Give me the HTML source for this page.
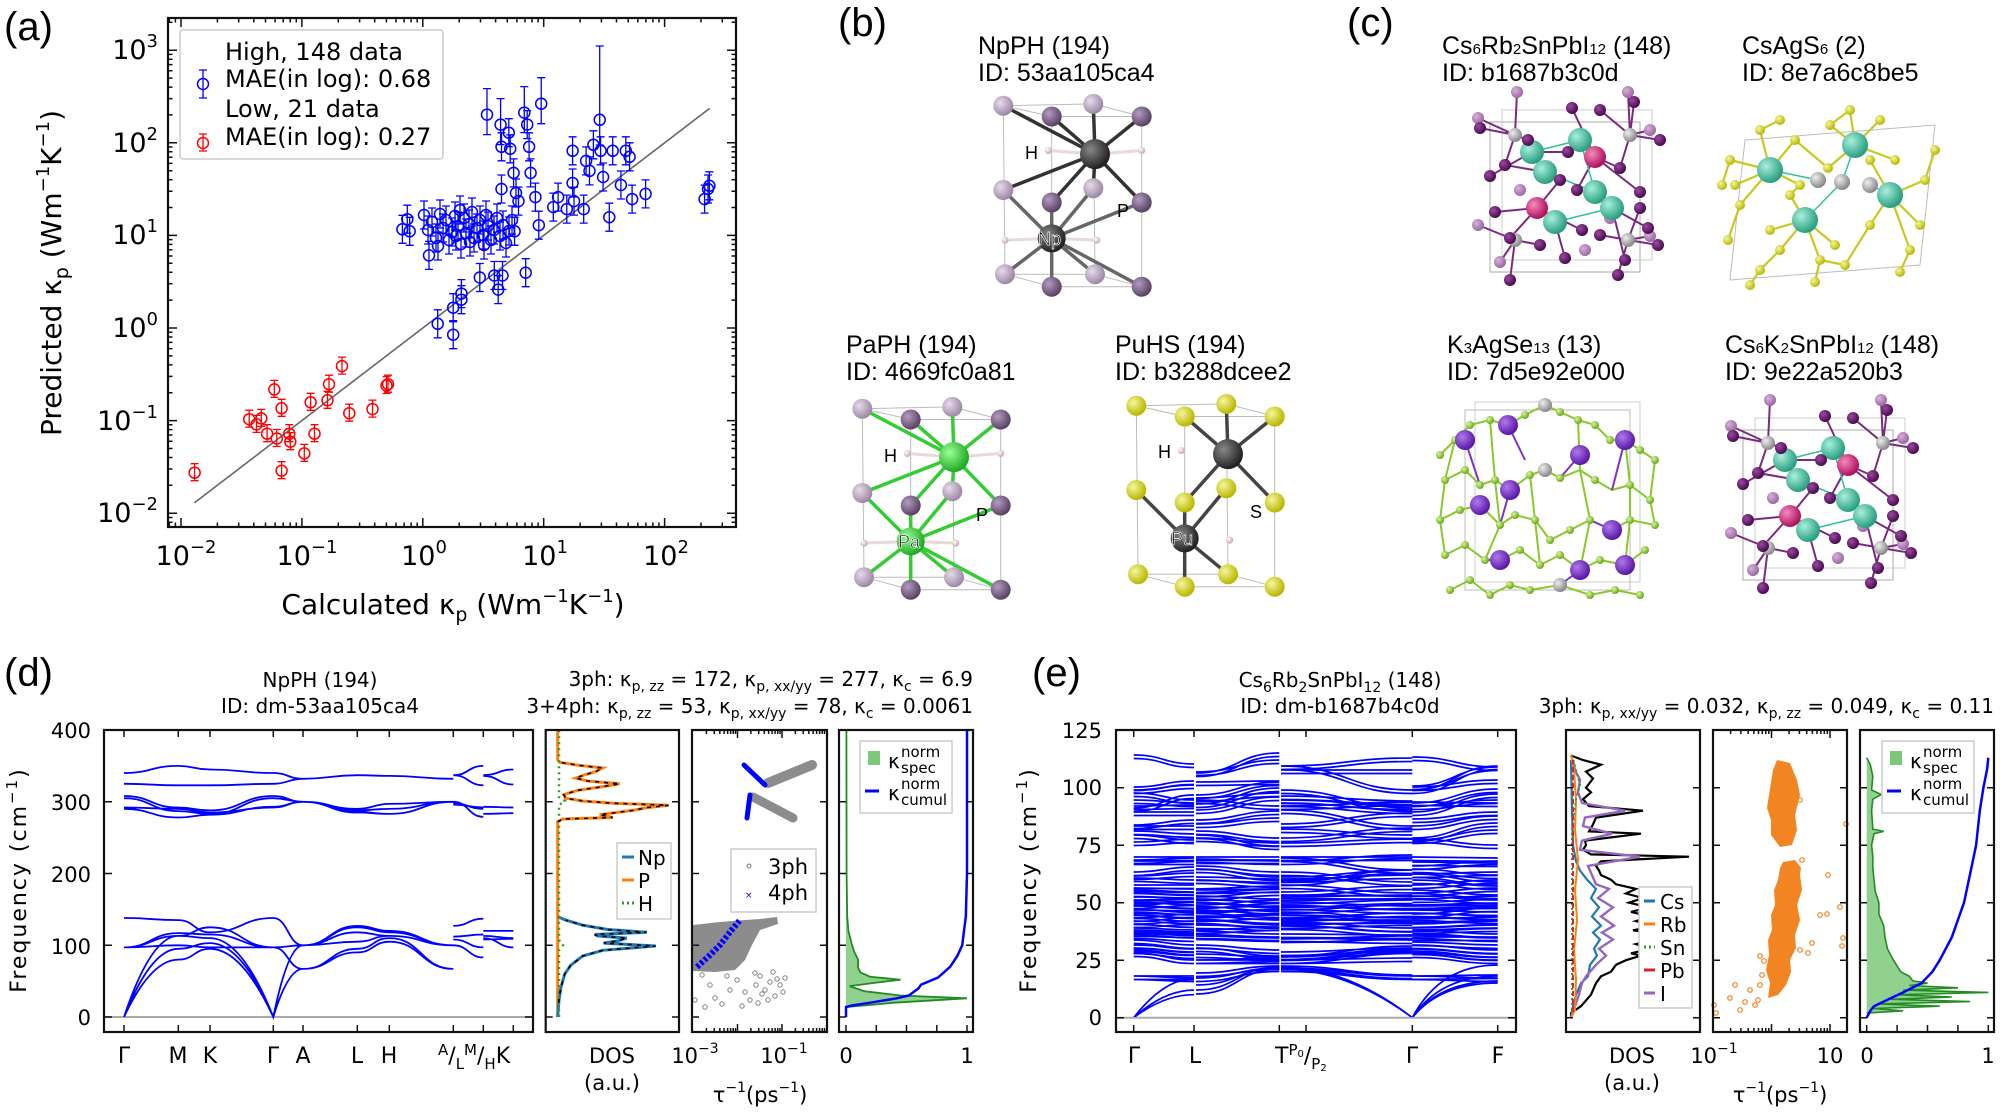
<!DOCTYPE html>
<html><head><meta charset="utf-8"><style>
html,body{margin:0;padding:0;background:#fff;}
svg{display:block}
.dv{font-family:"DejaVu Sans","Liberation Sans",sans-serif;}
.ls{font-family:"Liberation Sans","DejaVu Sans",sans-serif;}
.ax{fill:none;stroke:#111;stroke-width:2.2}
.tk{fill:none;stroke:#111;stroke-width:1.5}
.bd{fill:none;stroke:#0000ff;stroke-width:1.8}
.be{fill:none;stroke:#0000ff;stroke-width:1.7}
</style></head><body>
<svg xmlns="http://www.w3.org/2000/svg" xmlns:xlink="http://www.w3.org/1999/xlink" width="2000" height="1115" viewBox="0 0 2000 1115">
<rect width="2000" height="1115" fill="#fff"/>
<defs>
<radialGradient id="gP1" cx="35%" cy="35%" r="65%"><stop offset="0" stop-color="#e6dcea"/><stop offset="1" stop-color="#9e88a6"/></radialGradient>
<radialGradient id="gP2" cx="35%" cy="35%" r="65%"><stop offset="0" stop-color="#b49cc0"/><stop offset="1" stop-color="#5b4366"/></radialGradient>
<radialGradient id="gDk" cx="35%" cy="35%" r="65%"><stop offset="0" stop-color="#888"/><stop offset="1" stop-color="#222"/></radialGradient>
<radialGradient id="gGr" cx="35%" cy="35%" r="65%"><stop offset="0" stop-color="#9f9"/><stop offset="1" stop-color="#2a2"/></radialGradient>
<radialGradient id="gY" cx="35%" cy="35%" r="65%"><stop offset="0" stop-color="#f6f6a0"/><stop offset="1" stop-color="#b8b800"/></radialGradient>
<radialGradient id="gT" cx="35%" cy="35%" r="65%"><stop offset="0" stop-color="#a8f0dc"/><stop offset="1" stop-color="#2a9e80"/></radialGradient>
<radialGradient id="gM" cx="35%" cy="35%" r="65%"><stop offset="0" stop-color="#f58bbd"/><stop offset="1" stop-color="#b0105e"/></radialGradient>
<radialGradient id="gV" cx="35%" cy="35%" r="65%"><stop offset="0" stop-color="#b07ae8"/><stop offset="1" stop-color="#5a18a8"/></radialGradient>
<radialGradient id="gDP" cx="35%" cy="35%" r="65%"><stop offset="0" stop-color="#9a4aa0"/><stop offset="1" stop-color="#4a0a50"/></radialGradient>
<radialGradient id="gLP" cx="35%" cy="35%" r="65%"><stop offset="0" stop-color="#d8b0dc"/><stop offset="1" stop-color="#9a6aa2"/></radialGradient>
<radialGradient id="gGy" cx="35%" cy="35%" r="65%"><stop offset="0" stop-color="#eee"/><stop offset="1" stop-color="#888"/></radialGradient>
<radialGradient id="gLG" cx="35%" cy="35%" r="65%"><stop offset="0" stop-color="#d8f5a0"/><stop offset="1" stop-color="#6aa818"/></radialGradient>
<radialGradient id="gH" cx="35%" cy="35%" r="65%"><stop offset="0" stop-color="#fff"/><stop offset="1" stop-color="#c8a8a8"/></radialGradient>
<clipPath id="ca"><rect x="168" y="18" width="568" height="509"/></clipPath>
<clipPath id="ce1"><rect x="1116" y="730" width="400" height="287"/></clipPath>
<g id="bm"><path d="M0,-14V14M-4,-14H4M-4,14H4" stroke="#00f" stroke-width="1.3" fill="none"/><circle r="5.5" fill="none" stroke="#00f" stroke-width="1.5"/></g>
<g id="bm2"><path d="M0,-26V20M-4,-26H4M-4,20H4" stroke="#00f" stroke-width="1.3" fill="none"/><circle r="5.5" fill="none" stroke="#00f" stroke-width="1.5"/></g>
<g id="rm"><path d="M0,-9V8M-4,-9H4M-4,8H4" stroke="#f00" stroke-width="1.3" fill="none"/><circle r="5.5" fill="none" stroke="#f00" stroke-width="1.5"/></g>
<g id="oc"><circle r="2.3" fill="none" stroke="#f28522" stroke-width="1.2"/></g>
<g id="gc"><circle r="2.2" fill="none" stroke="#808080" stroke-width="1"/></g>
</defs>

<!-- ===== Panel (a) ===== -->
<g clip-path="url(#ca)">
<line x1="194.5" y1="502.8" x2="709.6" y2="108.4" stroke="#666" stroke-width="1.6"/>
<use href="#bm" x="437.7" y="323.8"/><use href="#bm" x="453.2" y="334.7"/><use href="#bm" x="453.2" y="307.7"/><use href="#bm" x="461.4" y="299.7"/><use href="#bm" x="461.4" y="293.6"/><use href="#bm" x="479.8" y="277.5"/><use href="#bm" x="494.3" y="275.5"/><use href="#bm" x="498.2" y="289.6"/><use href="#bm" x="502.5" y="275.5"/><use href="#bm" x="525.7" y="272.7"/>
<use href="#bm2" x="487.0" y="114.6"/><use href="#bm2" x="500.6" y="124.6"/><use href="#bm" x="501.5" y="146.8"/><use href="#bm" x="508.8" y="132.7"/><use href="#bm" x="510.2" y="148.8"/><use href="#bm" x="513.6" y="172.9"/><use href="#bm" x="516.0" y="193.0"/><use href="#bm2" x="524.3" y="112.6"/><use href="#bm" x="527.2" y="124.6"/><use href="#bm" x="529.1" y="146.8"/><use href="#bm" x="530.6" y="172.9"/><use href="#bm" x="535.4" y="197.1"/><use href="#bm" x="538.8" y="225.2"/><use href="#bm2" x="541.2" y="103.7"/><use href="#bm" x="501.5" y="189.0"/><use href="#bm" x="514.6" y="231.3"/><use href="#bm" x="518.5" y="201.1"/>
<use href="#bm" x="553.3" y="207.1"/><use href="#bm" x="558.1" y="197.1"/><use href="#bm" x="566.8" y="209.1"/><use href="#bm" x="572.6" y="150.8"/><use href="#bm" x="572.6" y="183.0"/><use href="#bm" x="574.0" y="201.1"/><use href="#bm" x="583.7" y="209.1"/><use href="#bm" x="586.1" y="160.9"/><use href="#bm" x="589.5" y="170.9"/><use href="#bm" x="593.4" y="144.8"/><use href="#bm" x="600.6" y="150.8"/><use href="#bm" x="603.1" y="177.0"/><use href="#bm" x="609.3" y="217.2"/><use href="#bm" x="612.7" y="150.8"/><use href="#bm" x="620.9" y="185.0"/><use href="#bm" x="625.8" y="150.8"/><use href="#bm" x="629.6" y="156.8"/><use href="#bm" x="632.1" y="199.1"/><use href="#bm" x="645.6" y="193.9"/><use href="#bm" x="704.6" y="199.1"/><use href="#bm" x="708.0" y="189.0"/><use href="#bm" x="709.4" y="185.8"/>
<path d="M599.7,119.8V46M595.7,46H603.7M599.7,119.8V145M595.7,145H603.7" stroke="#00f" stroke-width="1.3" fill="none"/><circle cx="599.7" cy="119.8" r="5.5" fill="none" stroke="#00f" stroke-width="1.5"/>
<use href="#bm" x="429.0" y="255.4"/><use href="#bm" x="402.4" y="229.3"/><use href="#bm" x="407.3" y="219.2"/><use href="#bm" x="409.7" y="231.3"/>
<use href="#bm" x="424" y="215"/><use href="#bm" x="428" y="230"/><use href="#bm" x="432" y="222"/><use href="#bm" x="436" y="238"/><use href="#bm" x="440" y="214"/><use href="#bm" x="443" y="228"/><use href="#bm" x="446" y="220"/><use href="#bm" x="449" y="240"/><use href="#bm" x="452" y="232"/><use href="#bm" x="455" y="216"/><use href="#bm" x="458" y="226"/><use href="#bm" x="461" y="244"/><use href="#bm" x="464" y="218"/><use href="#bm" x="466" y="233"/><use href="#bm" x="469" y="224"/><use href="#bm" x="472" y="212"/><use href="#bm" x="474" y="238"/><use href="#bm" x="477" y="228"/><use href="#bm" x="480" y="220"/><use href="#bm" x="483" y="235"/><use href="#bm" x="486" y="215"/><use href="#bm" x="488" y="226"/><use href="#bm" x="491" y="240"/><use href="#bm" x="494" y="230"/><use href="#bm" x="497" y="218"/><use href="#bm" x="500" y="236"/><use href="#bm" x="503" y="225"/><use href="#bm" x="506" y="243"/><use href="#bm" x="509" y="231"/><use href="#bm" x="512" y="220"/><use href="#bm" x="438" y="246"/><use href="#bm" x="456" y="236"/><use href="#bm" x="470" y="242"/><use href="#bm" x="484" y="245"/><use href="#bm" x="460" y="210"/>
<use href="#rm" x="194.6" y="472.7"/><use href="#rm" x="249.2" y="419.2"/><use href="#rm" x="256.5" y="424.4"/><use href="#rm" x="261.3" y="418.4"/><use href="#rm" x="267.1" y="433.7"/><use href="#rm" x="274.3" y="389.4"/><use href="#rm" x="276.8" y="438.5"/><use href="#rm" x="281.6" y="408.3"/><use href="#rm" x="281.6" y="470.7"/><use href="#rm" x="289.3" y="433.7"/><use href="#rm" x="290.3" y="441.7"/><use href="#rm" x="304.3" y="453.4"/><use href="#rm" x="310.6" y="402.3"/><use href="#rm" x="314.5" y="433.7"/><use href="#rm" x="327.5" y="400.3"/><use href="#rm" x="329.0" y="384.2"/><use href="#rm" x="342.0" y="366.1"/><use href="#rm" x="349.3" y="413.2"/><use href="#rm" x="372.5" y="409.1"/><use href="#rm" x="388.0" y="384.2"/><use href="#rm" x="386.5" y="385.5"/>
</g>
<path class="tk" d="M181,527v-9M301.9,527v-9M422.8,527v-9M543.7,527v-9M664.6,527v-9M181,18v9M301.9,18v9M422.8,18v9M543.7,18v9M664.6,18v9
M168,50.2h9M168,142.8h9M168,235.4h9M168,328h9M168,420.6h9M168,513.2h9M736,50.2h-9M736,142.8h-9M736,235.4h-9M736,328h-9M736,420.6h-9M736,513.2h-9"/>
<path class="tk" stroke-width="1.2" d="M169.3,527v-4.5M175.4,527v-4.5M217.4,527v-4.5M238.7,527v-4.5M253.8,527v-4.5M265.5,527v-4.5M275.1,527v-4.5M283.2,527v-4.5M290.2,527v-4.5M296.3,527v-4.5M338.3,527v-4.5M359.6,527v-4.5M374.7,527v-4.5M386.4,527v-4.5M396,527v-4.5M404.1,527v-4.5M411.1,527v-4.5M417.2,527v-4.5M459.2,527v-4.5M480.5,527v-4.5M495.6,527v-4.5M507.3,527v-4.5M516.9,527v-4.5M525,527v-4.5M532,527v-4.5M538.1,527v-4.5M580.1,527v-4.5M601.4,527v-4.5M616.5,527v-4.5M628.2,527v-4.5M637.8,527v-4.5M645.9,527v-4.5M652.9,527v-4.5M659,527v-4.5M701,527v-4.5M722.3,527v-4.5
M169.3,18v4.5M175.4,18v4.5M217.4,18v4.5M238.7,18v4.5M253.8,18v4.5M265.5,18v4.5M275.1,18v4.5M283.2,18v4.5M290.2,18v4.5M296.3,18v4.5M338.3,18v4.5M359.6,18v4.5M374.7,18v4.5M386.4,18v4.5M396,18v4.5M404.1,18v4.5M411.1,18v4.5M417.2,18v4.5M459.2,18v4.5M480.5,18v4.5M495.6,18v4.5M507.3,18v4.5M516.9,18v4.5M525,18v4.5M532,18v4.5M538.1,18v4.5M580.1,18v4.5M601.4,18v4.5M616.5,18v4.5M628.2,18v4.5M637.8,18v4.5M645.9,18v4.5M652.9,18v4.5M659,18v4.5M701,18v4.5M722.3,18v4.5
M168,517.5h4.5M168,522.2h4.5M168,485.3h4.5M168,469h4.5M168,457.5h4.5M168,448.5h4.5M168,441.2h4.5M168,435h4.5M168,429.6h4.5M168,424.8h4.5M168,392.7h4.5M168,376.4h4.5M168,364.9h4.5M168,355.9h4.5M168,348.6h4.5M168,342.4h4.5M168,337h4.5M168,332.2h4.5M168,300.1h4.5M168,283.8h4.5M168,272.3h4.5M168,263.3h4.5M168,256h4.5M168,249.8h4.5M168,244.4h4.5M168,239.6h4.5M168,207.5h4.5M168,191.2h4.5M168,179.7h4.5M168,170.7h4.5M168,163.4h4.5M168,157.2h4.5M168,151.8h4.5M168,147h4.5M168,114.9h4.5M168,98.6h4.5M168,87.1h4.5M168,78.1h4.5M168,70.8h4.5M168,64.6h4.5M168,59.2h4.5M168,54.4h4.5M168,22.3h4.5
M736,517.5h-4.5M736,522.2h-4.5M736,485.3h-4.5M736,469h-4.5M736,457.5h-4.5M736,448.5h-4.5M736,441.2h-4.5M736,435h-4.5M736,429.6h-4.5M736,424.8h-4.5M736,392.7h-4.5M736,376.4h-4.5M736,364.9h-4.5M736,355.9h-4.5M736,348.6h-4.5M736,342.4h-4.5M736,337h-4.5M736,332.2h-4.5M736,300.1h-4.5M736,283.8h-4.5M736,272.3h-4.5M736,263.3h-4.5M736,256h-4.5M736,249.8h-4.5M736,244.4h-4.5M736,239.6h-4.5M736,207.5h-4.5M736,191.2h-4.5M736,179.7h-4.5M736,170.7h-4.5M736,163.4h-4.5M736,157.2h-4.5M736,151.8h-4.5M736,147h-4.5M736,114.9h-4.5M736,98.6h-4.5M736,87.1h-4.5M736,78.1h-4.5M736,70.8h-4.5M736,64.6h-4.5M736,59.2h-4.5M736,54.4h-4.5M736,22.3h-4.5"/>
<rect class="ax" x="168" y="18" width="568" height="509"/>

<g class="dv" fill="#000">
<text x="4" y="40" font-size="40" class="ls">(a)</text>
<g font-size="27" text-anchor="end">
<text x="158" y="59">10<tspan font-size="18" dy="-12">3</tspan></text>
<text x="158" y="152">10<tspan font-size="18" dy="-12">2</tspan></text>
<text x="158" y="244">10<tspan font-size="18" dy="-12">1</tspan></text>
<text x="158" y="337">10<tspan font-size="18" dy="-12">0</tspan></text>
<text x="158" y="430">10<tspan font-size="18" dy="-12">−1</tspan></text>
<text x="158" y="522">10<tspan font-size="18" dy="-12">−2</tspan></text>
</g>
<g font-size="27" text-anchor="middle">
<text x="186" y="565">10<tspan font-size="18" dy="-12">−2</tspan></text>
<text x="307" y="565">10<tspan font-size="18" dy="-12">−1</tspan></text>
<text x="424" y="565">10<tspan font-size="18" dy="-12">0</tspan></text>
<text x="545" y="565">10<tspan font-size="18" dy="-12">1</tspan></text>
<text x="666" y="565">10<tspan font-size="18" dy="-12">2</tspan></text>
</g>
<text x="453" y="614" font-size="28" text-anchor="middle">Calculated κ<tspan font-size="19" dy="7">p</tspan><tspan dy="-7"> (Wm</tspan><tspan font-size="18" dy="-12">−1</tspan><tspan dy="12">K</tspan><tspan font-size="18" dy="-12">−1</tspan><tspan dy="12">)</tspan></text>
<text transform="translate(61,273) rotate(-90)" font-size="28" text-anchor="middle">Predicted κ<tspan font-size="19" dy="7">p</tspan><tspan dy="-7"> (Wm</tspan><tspan font-size="18" dy="-12">−1</tspan><tspan dy="12">K</tspan><tspan font-size="18" dy="-12">−1</tspan><tspan dy="12">)</tspan></text>
<rect x="180" y="30" width="263" height="129" fill="#fff" stroke="#ccc" stroke-width="1.5" rx="3"/>
<use href="#bm" x="203" y="84"/><use href="#rm" x="203" y="143"/>
<g font-size="24">
<text x="225" y="60">High, 148 data</text>
<text x="225" y="87">MAE(in log): 0.68</text>
<text x="225" y="117">Low, 21 data</text>
<text x="225" y="145">MAE(in log): 0.27</text>
</g>
</g>

<!-- ===== Structures (b) ===== -->
<g id="npph">
<path d="M1003.3,105.7L1093.3,103.9M1003.3,105.7L1051.7,116.5M1051.7,116.5L1141.7,116.5M1093.3,103.9L1141.7,116.5M1005,274.2L1095,274.2M1005,274.2L1051.7,286.7M1051.7,286.7L1141.7,286.7M1095,274.2L1141.7,286.7M1003.3,105.7L1005,274.2M1051.7,116.5L1051.7,286.7M1141.7,116.5L1141.7,286.7M1093.3,103.9L1095,274.2" stroke="#bbb" stroke-width="1" fill="none"/>
<path d="M1095,154.1L1003.3,105.7M1095,154.1L1093.3,103.9M1095,154.1L1003.3,190M1095,154.1L1093.3,188.2M1095,154.1L1051.7,116.5M1095,154.1L1141.7,116.5M1095,154.1L1051.7,202.5M1095,154.1L1141.7,202.5" stroke="#333" stroke-width="3.5"/>
<path d="M1051.7,238.4L1003.3,190M1051.7,238.4L1093.3,188.2M1051.7,238.4L1005,274.2M1051.7,238.4L1095,274.2M1051.7,238.4L1051.7,202.5M1051.7,238.4L1141.7,202.5M1051.7,238.4L1051.7,286.7M1051.7,238.4L1141.7,286.7" stroke="#666" stroke-width="3.5"/>
<path d="M1095,154.1L1048.3,150.5M1095,154.1L1141.7,150.5M1051.7,238.4L1005,240.1M1051.7,238.4L1096.7,240.1" stroke="#e8d8d8" stroke-width="3"/>
<g fill="url(#gP1)"><circle cx="1003.3" cy="105.7" r="10"/><circle cx="1093.3" cy="103.9" r="10"/><circle cx="1003.3" cy="190" r="10"/><circle cx="1093.3" cy="188.2" r="10"/><circle cx="1005" cy="274.2" r="10"/><circle cx="1095" cy="274.2" r="10"/></g>
<circle cx="1095" cy="154.1" r="15" fill="url(#gDk)"/><circle cx="1051.7" cy="238.4" r="14" fill="url(#gDk)"/>
<g fill="url(#gP2)"><circle cx="1051.7" cy="116.5" r="10"/><circle cx="1141.7" cy="116.5" r="10"/><circle cx="1051.7" cy="202.5" r="10"/><circle cx="1141.7" cy="202.5" r="10"/><circle cx="1051.7" cy="286.7" r="10"/><circle cx="1141.7" cy="286.7" r="10"/></g>
<g fill="url(#gH)"><circle cx="1048.3" cy="150.5" r="3.5"/><circle cx="1141.7" cy="150.5" r="3.5"/><circle cx="1005" cy="240.1" r="3.5"/><circle cx="1096.7" cy="240.1" r="3.5"/></g>
</g>
<g transform="translate(-141,303)">
<path d="M1003.3,105.7L1093.3,103.9M1003.3,105.7L1051.7,116.5M1051.7,116.5L1141.7,116.5M1093.3,103.9L1141.7,116.5M1005,274.2L1095,274.2M1005,274.2L1051.7,286.7M1051.7,286.7L1141.7,286.7M1095,274.2L1141.7,286.7M1003.3,105.7L1005,274.2M1051.7,116.5L1051.7,286.7M1141.7,116.5L1141.7,286.7M1093.3,103.9L1095,274.2" stroke="#bbb" stroke-width="1" fill="none"/>
<path d="M1095,154.1L1003.3,105.7M1095,154.1L1093.3,103.9M1095,154.1L1003.3,190M1095,154.1L1093.3,188.2M1095,154.1L1051.7,116.5M1095,154.1L1141.7,116.5M1095,154.1L1051.7,202.5M1095,154.1L1141.7,202.5M1051.7,238.4L1003.3,190M1051.7,238.4L1093.3,188.2M1051.7,238.4L1005,274.2M1051.7,238.4L1095,274.2M1051.7,238.4L1051.7,202.5M1051.7,238.4L1141.7,202.5M1051.7,238.4L1051.7,286.7M1051.7,238.4L1141.7,286.7" stroke="#3c3" stroke-width="3.5"/>
<path d="M1095,154.1L1048.3,150.5M1095,154.1L1141.7,150.5M1051.7,238.4L1005,240.1M1051.7,238.4L1096.7,240.1" stroke="#e8d8d8" stroke-width="3"/>
<g fill="url(#gP1)"><circle cx="1003.3" cy="105.7" r="10"/><circle cx="1093.3" cy="103.9" r="10"/><circle cx="1003.3" cy="190" r="10"/><circle cx="1093.3" cy="188.2" r="10"/><circle cx="1005" cy="274.2" r="10"/><circle cx="1095" cy="274.2" r="10"/></g>
<circle cx="1095" cy="154.1" r="15" fill="url(#gGr)"/><circle cx="1051.7" cy="238.4" r="14" fill="url(#gGr)"/>
<g fill="url(#gP2)"><circle cx="1051.7" cy="116.5" r="10"/><circle cx="1141.7" cy="116.5" r="10"/><circle cx="1051.7" cy="202.5" r="10"/><circle cx="1141.7" cy="202.5" r="10"/><circle cx="1051.7" cy="286.7" r="10"/><circle cx="1141.7" cy="286.7" r="10"/></g>
<g fill="url(#gH)"><circle cx="1048.3" cy="150.5" r="3.5"/><circle cx="1141.7" cy="150.5" r="3.5"/><circle cx="1005" cy="240.1" r="3.5"/><circle cx="1096.7" cy="240.1" r="3.5"/></g>
</g>
<g transform="translate(133,300)">
<path d="M1003.3,105.7L1093.3,103.9M1003.3,105.7L1051.7,116.5M1051.7,116.5L1141.7,116.5M1093.3,103.9L1141.7,116.5M1005,274.2L1095,274.2M1005,274.2L1051.7,286.7M1051.7,286.7L1141.7,286.7M1095,274.2L1141.7,286.7M1003.3,105.7L1005,274.2M1051.7,116.5L1051.7,286.7M1141.7,116.5L1141.7,286.7M1093.3,103.9L1095,274.2" stroke="#bbb" stroke-width="1" fill="none"/>
<path d="M1095,154.1L1093.3,103.9M1095,154.1L1051.7,116.5M1095,154.1L1141.7,116.5M1095,154.1L1051.7,202.5M1095,154.1L1141.7,202.5M1051.7,238.4L1003.3,190M1051.7,238.4L1093.3,188.2M1051.7,238.4L1051.7,202.5M1051.7,238.4L1051.7,286.7M1051.7,238.4L1095,274.2" stroke="#444" stroke-width="3.5"/>
<g fill="url(#gY)"><circle cx="1003.3" cy="105.7" r="10"/><circle cx="1093.3" cy="103.9" r="10"/><circle cx="1003.3" cy="190" r="10"/><circle cx="1093.3" cy="188.2" r="10"/><circle cx="1005" cy="274.2" r="10"/><circle cx="1095" cy="274.2" r="10"/><circle cx="1051.7" cy="116.5" r="10"/><circle cx="1141.7" cy="116.5" r="10"/><circle cx="1051.7" cy="202.5" r="10"/><circle cx="1141.7" cy="202.5" r="10"/><circle cx="1051.7" cy="286.7" r="10"/><circle cx="1141.7" cy="286.7" r="10"/></g>
<circle cx="1095" cy="154.1" r="15" fill="url(#gDk)"/><circle cx="1051.7" cy="238.4" r="14" fill="url(#gDk)"/>
<g fill="url(#gH)"><circle cx="1048.3" cy="150.5" r="3.5"/><circle cx="1096.7" cy="240.1" r="3.5"/></g>
</g>

<!-- ===== Structures (c) ===== -->
<g id="cs6">
<rect x="1490" y="122" width="150" height="150" fill="none" stroke="#aaa"/><rect x="1502" y="110" width="150" height="150" fill="none" stroke="#ccc"/>
<path d="M1480,128L1515,135L1528,140M1517,92L1515,135L1505,165M1478,118L1515,135M1634,102L1630,135L1620,168M1660,140L1630,135L1600,110M1628,92L1630,135M1650,130L1630,135M1490,176L1532,152L1568,152M1505,165L1545,172L1560,180M1595,157L1620,168M1595,157L1572,108M1595,157L1640,192M1595,157L1577,190M1537,208L1495,212M1537,208L1510,238M1537,208L1560,180M1537,208L1582,230M1515,240L1478,225M1515,240L1510,280M1515,240L1540,245M1515,240L1500,262M1628,240L1658,245M1628,240L1600,235M1628,240L1618,275M1628,240L1650,236M1628,240L1640,208M1565,258L1555,222M1625,260L1612,208M1648,228L1612,208" stroke="#7a2a80" stroke-width="2" fill="none"/>
<path d="M1532,152L1580,140M1545,172L1595,192M1555,222L1612,208M1580,140L1595,192" stroke="#30c0a0" stroke-width="1.5" fill="none"/>
<g fill="url(#gLP)"><circle cx="1517" cy="92" r="6"/><circle cx="1628" cy="92" r="6"/><circle cx="1478" cy="118" r="6"/><circle cx="1650" cy="130" r="6"/><circle cx="1520" cy="190" r="6"/><circle cx="1610" cy="218" r="6"/><circle cx="1478" cy="225" r="6"/><circle cx="1650" cy="236" r="6"/><circle cx="1500" cy="262" r="6"/><circle cx="1585" cy="250" r="6"/></g>
<g fill="url(#gGy)"><circle cx="1515" cy="135" r="7"/><circle cx="1630" cy="135" r="7"/><circle cx="1515" cy="240" r="7"/><circle cx="1628" cy="240" r="7"/></g>
<g fill="url(#gT)"><circle cx="1532" cy="152" r="12"/><circle cx="1545" cy="172" r="12"/><circle cx="1580" cy="140" r="12"/><circle cx="1595" cy="192" r="12"/><circle cx="1612" cy="208" r="12"/><circle cx="1555" cy="222" r="12"/></g>
<g fill="url(#gM)"><circle cx="1595" cy="157" r="11"/><circle cx="1537" cy="208" r="11"/></g>
<g fill="url(#gDP)"><circle cx="1480" cy="128" r="6"/><circle cx="1528" cy="140" r="6"/><circle cx="1600" cy="110" r="6"/><circle cx="1634" cy="102" r="6"/><circle cx="1660" cy="140" r="6"/><circle cx="1490" cy="176" r="6"/><circle cx="1505" cy="165" r="6"/><circle cx="1568" cy="152" r="6"/><circle cx="1620" cy="168" r="6"/><circle cx="1640" cy="192" r="6"/><circle cx="1560" cy="180" r="6"/><circle cx="1577" cy="190" r="6"/><circle cx="1640" cy="208" r="6"/><circle cx="1582" cy="230" r="6"/><circle cx="1510" cy="238" r="6"/><circle cx="1540" cy="245" r="6"/><circle cx="1600" cy="235" r="6"/><circle cx="1658" cy="245" r="6"/><circle cx="1625" cy="260" r="6"/><circle cx="1565" cy="258" r="6"/><circle cx="1510" cy="280" r="6"/><circle cx="1618" cy="275" r="6"/><circle cx="1572" cy="108" r="6"/><circle cx="1495" cy="212" r="6"/><circle cx="1648" cy="228" r="6"/></g>
</g>
<use href="#cs6" transform="translate(253,308)"/>
<!-- CsAgS6 -->
<g>
<path d="M1745,140L1935,125L1920,265L1730,280Z" fill="none" stroke="#bbb"/>
<path d="M1770,170L1730,160M1770,170L1740,205M1770,170L1760,130M1770,170L1795,140M1770,170L1800,185M1770,170L1735,185M1855,145L1830,125M1855,145L1880,120M1855,145L1895,160M1855,145L1828,168M1855,145L1850,110M1805,220L1780,250M1805,220L1820,260M1805,220L1770,230M1805,220L1835,245M1805,220L1790,195M1890,195L1925,180M1890,195L1920,225M1890,195L1870,225M1890,195L1910,250M1890,195L1870,160M1740,205L1728,240M1760,130L1780,120M1820,260L1845,265M1925,180L1935,150M1730,160L1722,185M1830,125L1850,110M1780,250L1760,270M1795,140L1828,168M1800,185L1790,195M1870,225L1845,265M1900,272L1910,250M1815,282L1820,260M1750,285L1760,270" stroke="#c8c820" stroke-width="2.2" fill="none"/>
<path d="M1770,170L1818,180M1855,145L1842,182M1805,220L1842,182M1890,195L1870,185" stroke="#30c0a0" stroke-width="1.5" fill="none"/>
<g fill="url(#gY)"><circle cx="1730" cy="160" r="5"/><circle cx="1740" cy="205" r="5"/><circle cx="1760" cy="130" r="5"/><circle cx="1795" cy="140" r="5"/><circle cx="1800" cy="185" r="5"/><circle cx="1735" cy="185" r="5"/><circle cx="1830" cy="125" r="5"/><circle cx="1880" cy="120" r="5"/><circle cx="1895" cy="160" r="5"/><circle cx="1828" cy="168" r="5"/><circle cx="1850" cy="110" r="5"/><circle cx="1780" cy="250" r="5"/><circle cx="1820" cy="260" r="5"/><circle cx="1770" cy="230" r="5"/><circle cx="1835" cy="245" r="5"/><circle cx="1790" cy="195" r="5"/><circle cx="1925" cy="180" r="5"/><circle cx="1920" cy="225" r="5"/><circle cx="1870" cy="225" r="5"/><circle cx="1910" cy="250" r="5"/><circle cx="1870" cy="160" r="5"/><circle cx="1728" cy="240" r="5"/><circle cx="1780" cy="120" r="5"/><circle cx="1845" cy="265" r="5"/><circle cx="1935" cy="150" r="5"/><circle cx="1722" cy="185" r="5"/><circle cx="1760" cy="270" r="5"/><circle cx="1900" cy="272" r="5"/><circle cx="1815" cy="282" r="5"/><circle cx="1750" cy="285" r="5"/></g>
<g fill="url(#gGy)"><circle cx="1818" cy="180" r="8"/><circle cx="1842" cy="182" r="8"/><circle cx="1870" cy="185" r="8"/></g>
<g fill="url(#gT)"><circle cx="1770" cy="170" r="13"/><circle cx="1855" cy="145" r="13"/><circle cx="1805" cy="220" r="13"/><circle cx="1890" cy="195" r="13"/></g>
</g>
<!-- K3AgSe13 -->
<g>
<rect x="1465" y="410" width="165" height="180" fill="none" stroke="#bbb"/><rect x="1475" y="402" width="165" height="180" fill="none" stroke="#ccc"/>
<path fill="none" d="M1440,455L1455,440L1470,425L1490,420L1508,425L1525,415L1545,405L1560,412L1578,420L1595,425L1610,440L1625,440L1640,450L1655,460M1445,480L1465,470L1480,485L1495,480L1510,490L1530,475L1545,470L1560,478L1580,470L1595,480L1612,490L1630,485L1650,500M1440,520L1460,510L1480,505L1500,525L1515,515L1535,520L1550,540L1570,530L1590,520L1612,530L1630,520L1655,525M1445,555L1465,545L1485,560L1500,560L1520,550L1540,565L1560,555L1580,570L1600,560L1625,565L1645,550M1450,590L1470,580L1490,595L1510,585L1530,590L1560,585L1590,595L1615,590L1640,595M1455,440L1445,480L1440,520L1445,555M1490,420L1495,480L1500,525L1485,560M1530,475L1535,520L1540,565M1578,420L1580,470L1590,520L1580,570M1625,440L1630,485L1630,520L1625,565M1655,460L1650,500L1655,525" stroke="#88c828" stroke-width="2"/>
<path fill="none" d="M1465,440L1480,485M1508,425L1525,460M1580,455L1560,478M1625,440L1612,490M1510,490L1500,525M1612,530L1590,520M1500,560L1485,560M1580,570L1560,585" stroke="#8030d0" stroke-width="2"/>
<g fill="url(#gLG)"><circle cx="1440" cy="455" r="4"/><circle cx="1455" cy="440" r="4"/><circle cx="1470" cy="425" r="4"/><circle cx="1490" cy="420" r="4"/><circle cx="1525" cy="415" r="4"/><circle cx="1560" cy="412" r="4"/><circle cx="1578" cy="420" r="4"/><circle cx="1595" cy="425" r="4"/><circle cx="1610" cy="440" r="4"/><circle cx="1640" cy="450" r="4"/><circle cx="1655" cy="460" r="4"/><circle cx="1445" cy="480" r="4"/><circle cx="1465" cy="470" r="4"/><circle cx="1480" cy="485" r="4"/><circle cx="1495" cy="480" r="4"/><circle cx="1530" cy="475" r="4"/><circle cx="1560" cy="478" r="4"/><circle cx="1595" cy="480" r="4"/><circle cx="1630" cy="485" r="4"/><circle cx="1650" cy="500" r="4"/><circle cx="1440" cy="520" r="4"/><circle cx="1460" cy="510" r="4"/><circle cx="1500" cy="525" r="4"/><circle cx="1515" cy="515" r="4"/><circle cx="1535" cy="520" r="4"/><circle cx="1550" cy="540" r="4"/><circle cx="1570" cy="530" r="4"/><circle cx="1590" cy="520" r="4"/><circle cx="1630" cy="520" r="4"/><circle cx="1655" cy="525" r="4"/><circle cx="1445" cy="555" r="4"/><circle cx="1465" cy="545" r="4"/><circle cx="1485" cy="560" r="4"/><circle cx="1520" cy="550" r="4"/><circle cx="1540" cy="565" r="4"/><circle cx="1560" cy="555" r="4"/><circle cx="1600" cy="560" r="4"/><circle cx="1645" cy="550" r="4"/><circle cx="1450" cy="590" r="4"/><circle cx="1470" cy="580" r="4"/><circle cx="1490" cy="595" r="4"/><circle cx="1510" cy="585" r="4"/><circle cx="1530" cy="590" r="4"/><circle cx="1590" cy="595" r="4"/><circle cx="1615" cy="590" r="4"/><circle cx="1640" cy="595" r="4"/></g>
<g fill="url(#gGy)"><circle cx="1545" cy="405" r="7"/><circle cx="1545" cy="470" r="7"/><circle cx="1560" cy="585" r="7"/></g>
<g fill="url(#gV)"><circle cx="1465" cy="440" r="10"/><circle cx="1508" cy="425" r="10"/><circle cx="1580" cy="455" r="10"/><circle cx="1625" cy="440" r="10"/><circle cx="1510" cy="490" r="10"/><circle cx="1480" cy="505" r="10"/><circle cx="1612" cy="530" r="10"/><circle cx="1500" cy="560" r="10"/><circle cx="1580" cy="570" r="10"/><circle cx="1625" cy="565" r="10"/></g>
</g>

<g class="ls" fill="#000" font-size="25">
<text x="838" y="36" font-size="40">(b)</text>
<text x="978" y="54">NpPH (194)</text><text x="978" y="81">ID: 53aa105ca4</text>
<text x="846" y="353">PaPH (194)</text><text x="846" y="380">ID: 4669fc0a81</text>
<text x="1115" y="353">PuHS (194)</text><text x="1115" y="380">ID: b3288dcee2</text>
<text x="1347" y="36" font-size="40">(c)</text>
<text x="1442" y="54">Cs<tspan font-size="15">6</tspan>Rb<tspan font-size="15">2</tspan>SnPbI<tspan font-size="15">12</tspan> (148)</text><text x="1442" y="81">ID: b1687b3c0d</text>
<text x="1742" y="54">CsAgS<tspan font-size="15">6</tspan> (2)</text><text x="1742" y="81">ID: 8e7a6c8be5</text>
<text x="1447" y="353">K<tspan font-size="15">3</tspan>AgSe<tspan font-size="15">13</tspan> (13)</text><text x="1447" y="380">ID: 7d5e92e000</text>
<text x="1725" y="353">Cs<tspan font-size="15">6</tspan>K<tspan font-size="15">2</tspan>SnPbI<tspan font-size="15">12</tspan> (148)</text><text x="1725" y="380">ID: 9e22a520b3</text>
</g>
<g class="ls" fill="#000" font-size="18">
<text x="1025" y="159">H</text><text x="1117" y="217">P</text><text x="1038" y="245" stroke="#fff" stroke-width="0.7">Np</text>
<text x="884" y="462">H</text><text x="976" y="521">P</text><text x="898" y="548" stroke="#fff" stroke-width="0.7">Pa</text>
<text x="1158" y="458">H</text><text x="1250" y="518">S</text><text x="1171" y="545" stroke="#fff" stroke-width="0.7">Pu</text>
</g>

<!-- ===== Panel (d) ===== -->
<line x1="104" y1="1017" x2="533" y2="1017" stroke="#aaa" stroke-width="2"/>
<path class="bd" d="
M124,1017 Q151,959.6 178.3,959.6 C194.2,959.6 194.2,948.8 210,948.8 Q241.7,948.8 273.3,1017 Q288,968.9 303,968.9 C330,968.9 330,952.4 357.3,952.4 C373.3,952.4 373.3,941.7 389.3,941.7 C421.3,941.7 421.3,968.9 453.3,968.9
M124,1017 Q151,948.8 178.3,948.8 C194.2,948.8 194.2,943.1 210,943.1 Q241.7,943.1 273.3,1017 Q288,968.9 303,968.9 C330,968.9 330,948.8 357.3,948.8 C373.3,948.8 373.3,938.1 389.3,938.1 C421.3,938.1 421.3,968.9 453.3,968.9
M124,1017 Q151,935.9 178.3,935.9 C194.2,935.9 194.2,938.1 210,938.1 Q241.7,938.1 273.3,1017 Q288,945.3 303,945.3 C330,945.3 330,941.7 357.3,941.7 C373.3,941.7 373.3,935.9 389.3,935.9 C421.3,935.9 421.3,945.3 453.3,945.3
M124,947.4 C151,947.4 151,945.3 178.3,945.3 C194.2,945.3 194.2,947.4 210,947.4 C241.7,947.4 241.7,947.4 273.3,947.4 C288,947.4 288,945.3 303,945.3 C330,945.3 330,932.3 357.3,932.3 C373.3,932.3 373.3,935.9 389.3,935.9 C421.3,935.9 421.3,945.3 453.3,945.3
M124,947.4 C151,947.4 151,933.1 178.3,933.1 C194.2,933.1 194.2,934.5 210,934.5 C241.7,934.5 241.7,947.4 273.3,947.4 C288,947.4 288,945.3 303,945.3 C330,945.3 330,927.3 357.3,927.3 C373.3,927.3 373.3,932.3 389.3,932.3 C421.3,932.3 421.3,945.3 453.3,945.3
M124,918 C151,918 151,920.1 178.3,920.1 C194.2,920.1 194.2,932.3 210,932.3 C241.7,932.3 241.7,918 273.3,918 C288,918 288,945.3 303,945.3 C330,945.3 330,925.9 357.3,925.9 C373.3,925.9 373.3,930.9 389.3,930.9 C421.3,930.9 421.3,945.3 453.3,945.3
M124,947.4 C151,947.4 151,935.9 178.3,935.9 C194.2,935.9 194.2,927.3 210,927.3 C241.7,927.3 241.7,947.4 273.3,947.4 C288,947.4 288,968.9 303,968.9 C330,968.9 330,952.4 357.3,952.4 C373.3,952.4 373.3,941.7 389.3,941.7 C421.3,941.7 421.3,968.9 453.3,968.9
M124,773 C151,773 151,765.9 178.3,765.9 C194.2,765.9 194.2,769.5 210,769.5 C241.7,769.5 241.7,773 273.3,773 C288,773 288,778.8 303,778.8 C330,778.8 330,775.2 357.3,775.2 C373.3,775.2 373.3,775.9 389.3,775.9 C421.3,775.9 421.3,778.8 453.3,778.8
M124,783.8 C151,783.8 151,785.3 178.3,785.3 C194.2,785.3 194.2,785.3 210,785.3 C241.7,785.3 241.7,783.8 273.3,783.8 C288,783.8 288,778.8 303,778.8 C330,778.8 330,775.2 357.3,775.2 C373.3,775.2 373.3,775.9 389.3,775.9 C421.3,775.9 421.3,778.8 453.3,778.8
M124,796 C151,796 151,807.5 178.3,807.5 C194.2,807.5 194.2,810.4 210,810.4 C241.7,810.4 241.7,796 273.3,796 C288,796 288,801.8 303,801.8 C330,801.8 330,808.9 357.3,808.9 C373.3,808.9 373.3,803.9 389.3,803.9 C421.3,803.9 421.3,801.8 453.3,801.8
M124,798.2 C151,798.2 151,811.1 178.3,811.1 C194.2,811.1 194.2,813.9 210,813.9 C241.7,813.9 241.7,798.2 273.3,798.2 C288,798.2 288,801.8 303,801.8 C330,801.8 330,810.4 357.3,810.4 C373.3,810.4 373.3,808.9 389.3,808.9 C421.3,808.9 421.3,801.8 453.3,801.8
M124,807.5 C151,807.5 151,808.9 178.3,808.9 C194.2,808.9 194.2,812.5 210,812.5 C241.7,812.5 241.7,807.5 273.3,807.5 C288,807.5 288,801.8 303,801.8 C330,801.8 330,812.5 357.3,812.5 C373.3,812.5 373.3,813.9 389.3,813.9 C421.3,813.9 421.3,801.8 453.3,801.8
M124,808.9 C151,808.9 151,817.5 178.3,817.5 C194.2,817.5 194.2,814.7 210,814.7 C241.7,814.7 241.7,806.8 273.3,806.8 C288,806.8 288,801.8 303,801.8 C330,801.8 330,811.8 357.3,811.8 C373.3,811.8 373.3,813.9 389.3,813.9 C421.3,813.9 421.3,801.8 453.3,801.8
M453.3,775.2 C468.3,775.2 468.3,765.9 483.3,765.9 M453.3,775.2 C468.3,775.2 468.3,785.3 483.3,785.3 M453.3,801.8 C468.3,801.8 468.3,816.8 483.3,816.8 M453.3,803.2 C468.3,803.2 468.3,808.9 483.3,808.9 M453.3,804.6 C468.3,804.6 468.3,807.5 483.3,807.5 M453.3,925.9 C468.3,925.9 468.3,918.7 483.3,918.7 M453.3,939.5 C468.3,939.5 468.3,947.4 483.3,947.4 M453.3,945.3 C468.3,945.3 468.3,957.4 483.3,957.4 M453.3,936.6 C468.3,936.6 468.3,934.5 483.3,934.5
M483.3,775.2 C498.3,775.2 498.3,769.5 513.3,769.5 M483.3,775.9 C498.3,775.9 498.3,784.5 513.3,784.5 M483.3,806.8 C498.3,806.8 498.3,807.5 513.3,807.5 M483.3,813.9 C498.3,813.9 498.3,813.2 513.3,813.2 M483.3,930.9 L513.3,930.9 M483.3,935.9 C498.3,935.9 498.3,938.1 513.3,938.1 M483.3,938.1 C498.3,938.1 498.3,947.4 513.3,947.4 M483.3,939.5 C498.3,939.5 498.3,938.8 513.3,938.8"/>
<path class="tk" d="M124,1032v-7M178.3,1032v-7M210,1032v-7M273.3,1032v-7M303,1032v-7M357.3,1032v-7M389.3,1032v-7M453.3,1032v-7M483.3,1032v-7M513.3,1032v-7M124,730v7M178.3,730v7M210,730v7M273.3,730v7M303,730v7M357.3,730v7M389.3,730v7M453.3,730v7M483.3,730v7M513.3,730v7
M104,1017h8M104,945.3h8M104,873.5h8M104,801.8h8M104,730h8M533,1017h-8M533,945.3h-8M533,873.5h-8M533,801.8h-8"/>
<rect class="ax" x="104" y="730" width="429" height="302"/>
<!-- DOS d -->
<polyline fill="none" stroke="#ff7f0e" stroke-width="3" points="557.7,1017 557.7,821.8 562.7,819 612.7,817.5 599.7,814.7 632.7,810.4 647.7,807.5 668.7,805.3 612.7,803.2 582.7,801 565.7,798.2 563.7,794.6 577.7,790.3 597.7,787.4 619.7,783.8 587.7,781 575.7,778.1 585.7,774.5 595.7,771.6 602.7,768 577.7,765.2 559.7,762.3 557.7,760 557.7,730"/>
<polyline fill="none" stroke="#1f77b4" stroke-width="3" points="557.7,1017 558.7,1002.7 560.7,988.3 564.7,974 570.7,965.3 582.7,956 602.7,950.3 655.7,946 603.7,943.1 617.7,940.9 626.7,938.1 597.7,935.9 594.7,934.5 646.7,932.3 607.7,929.5 582.7,925.2 565.7,920.1 557.7,916.6"/>
<polyline fill="none" stroke="#2ca02c" stroke-width="2.5" stroke-dasharray="2,4" points="559,1017 559,950 563,945 559,940 559,805 565,801 559,797 559,730"/>
<polyline fill="none" stroke="#000" stroke-width="1.6" stroke-dasharray="4,5" points="557.7,821.8 562.7,819 612.7,817.5 599.7,814.7 632.7,810.4 647.7,807.5 668.7,805.3 612.7,803.2 582.7,801 565.7,798.2 563.7,794.6 577.7,790.3 597.7,787.4 619.7,783.8 587.7,781 575.7,778.1 585.7,774.5 595.7,771.6 602.7,768 577.7,765.2 559.7,762.3"/>
<polyline fill="none" stroke="#000" stroke-width="1.6" stroke-dasharray="4,5" points="558.7,1002.7 560.7,988.3 564.7,974 570.7,965.3 582.7,956 602.7,950.3 655.7,946 603.7,943.1 617.7,940.9 626.7,938.1 597.7,935.9 594.7,934.5 646.7,932.3 607.7,929.5 582.7,925.2 565.7,920.1"/>
<path class="tk" d="M545.7,1017h7M545.7,945.3h7M545.7,873.5h7M545.7,801.8h7M679,1017h-7M679,945.3h-7M679,873.5h-7M679,801.8h-7"/>
<rect class="ax" x="545.7" y="730" width="133.3" height="302"/>
<!-- tau d -->
<g stroke-linecap="round">
<line x1="768" y1="783" x2="812" y2="765" stroke="#8c8c8c" stroke-width="10"/>
<line x1="753" y1="797" x2="793" y2="818" stroke="#8c8c8c" stroke-width="9"/>
<line x1="744" y1="765" x2="765" y2="785" stroke="#0000ff" stroke-width="5"/>
<line x1="750" y1="795" x2="747" y2="818" stroke="#0000ff" stroke-width="5"/>
</g>
<polygon points="693,925 720,922 745,920 760,919 777,917 778,924 760,930 752,945 745,960 735,970 715,972 693,971" fill="#8c8c8c"/>
<polyline points="697,967 710,955 720,945 730,932 740,920" fill="none" stroke="#0000ff" stroke-width="6" stroke-dasharray="3,2"/>
<g>
<use href="#gc" x="702" y="975"/><use href="#gc" x="710" y="985"/><use href="#gc" x="715" y="998"/><use href="#gc" x="722" y="1004"/><use href="#gc" x="730" y="990"/><use href="#gc" x="737" y="980"/><use href="#gc" x="745" y="992"/><use href="#gc" x="750" y="1000"/><use href="#gc" x="756" y="985"/><use href="#gc" x="760" y="976"/><use href="#gc" x="765" y="990"/><use href="#gc" x="770" y="982"/><use href="#gc" x="775" y="996"/><use href="#gc" x="780" y="985"/><use href="#gc" x="785" y="978"/><use href="#gc" x="768" y="1000"/><use href="#gc" x="758" y="1003"/><use href="#gc" x="742" y="1006"/><use href="#gc" x="727" y="976"/><use href="#gc" x="695" y="1000"/><use href="#gc" x="705" y="1007"/><use href="#gc" x="773" y="972"/><use href="#gc" x="783" y="992"/><use href="#gc" x="762" y="994"/><use href="#gc" x="755" y="973"/><use href="#gc" x="777" y="979"/>
</g>
<path class="tk" d="M737.5,1032v-8M782,1032v-8M737.5,730v8M782,730v8"/>
<path class="tk" stroke-width="1.1" d="M706.4,1032v-4M714.2,1032v-4M719.8,1032v-4M724.1,1032v-4M727.6,1032v-4M730.6,1032v-4M733.2,1032v-4M735.5,1032v-4M750.9,1032v-4M758.7,1032v-4M764.3,1032v-4M768.6,1032v-4M772.1,1032v-4M775.1,1032v-4M777.7,1032v-4M780,1032v-4M795.4,1032v-4M803.2,1032v-4M808.8,1032v-4M813.1,1032v-4M816.6,1032v-4M819.6,1032v-4M822.2,1032v-4M824.5,1032v-4
M706.4,730v4M714.2,730v4M719.8,730v4M724.1,730v4M727.6,730v4M730.6,730v4M733.2,730v4M735.5,730v4M750.9,730v4M758.7,730v4M764.3,730v4M768.6,730v4M772.1,730v4M775.1,730v4M777.7,730v4M780,730v4M795.4,730v4M803.2,730v4M808.8,730v4M813.1,730v4M816.6,730v4M819.6,730v4M822.2,730v4M824.5,730v4"/>
<path class="tk" d="M692,1017h7M692,945.3h7M692,873.5h7M692,801.8h7M827,1017h-7M827,945.3h-7M827,873.5h-7M827,801.8h-7"/>
<rect class="ax" x="692" y="730" width="135" height="302"/>
<!-- kappa d -->
<polygon fill="#7cc97c" fill-opacity="0.85" points="846,1017 846,1007 864.2,1005.5 894.4,1002.7 967,998.3 900.5,995.5 864.2,991.2 849.6,986.1 876.3,982.6 900.5,979.7 870.2,976.8 860.5,972.5 858.1,968.2 858.1,959.6 854.5,952.4 852.1,945.3 848.4,930.9 847.2,916.6 846.6,873.5 846.4,730 846,730"/>
<polyline fill="none" stroke="#228b22" stroke-width="1.8" points="846,1007 864.2,1005.5 894.4,1002.7 967,998.3 900.5,995.5 864.2,991.2 849.6,986.1 876.3,982.6 900.5,979.7 870.2,976.8 860.5,972.5 858.1,968.2 858.1,959.6 854.5,952.4 852.1,945.3 848.4,930.9 847.2,916.6 846.6,873.5 846.4,730"/>
<polyline fill="none" stroke="#0000ff" stroke-width="2.5" points="846,1017 846,1007 852.1,1005.5 870.2,1002.7 896.8,998.3 908.9,995.5 918.6,988.3 921,984.7 938,977.5 950.1,966.8 957.3,956 962.2,945.3 965.8,916.6 967,873.5 967,730"/>
<path class="tk" d="M846,1032v-7M876.3,1032v-7M906.5,1032v-7M936.8,1032v-7M967,1032v-7M839,1017h7M839,945.3h7M839,873.5h7M839,801.8h7M973,1017h-7M973,945.3h-7M973,873.5h-7M973,801.8h-7"/>
<rect class="ax" x="839" y="730" width="134" height="302"/>

<!-- ===== Panel (e) ===== -->
<line x1="1116" y1="1017.7" x2="1516" y2="1017.7" stroke="#aaa" stroke-width="2"/>
<g clip-path="url(#ce1)">
<path id="eb" class="be" d="
M1133.7,755 C1164,755 1164,764 1194,764 M1196,773 C1237.6,773 1237.6,753 1279.3,753 M1281,766 C1346.6,766 1346.6,758 1412.3,758 M1412.3,757 C1455,757 1455,767 1497.7,767
M1133.7,790 C1164,790 1164,785 1194,785 M1196,772 C1237.6,772 1237.6,760 1279.3,760 M1281,766 C1346.6,766 1346.6,790 1412.3,790 M1412.3,790 C1455,790 1455,766 1497.7,766
M1133.7,787 C1164,787 1164,781 1194,781 M1196,782 C1237.6,782 1237.6,781 1279.3,781 M1281,770 C1346.6,770 1346.6,770 1412.3,770 M1412.3,787 C1455,787 1455,780 1497.7,780
M1133.7,808 C1164,808 1164,795 1194,795 M1196,795 C1237.6,795 1237.6,782 1279.3,782 M1281,790 C1346.6,790 1346.6,808 1412.3,808 M1412.3,786 C1455,786 1455,767 1497.7,767
M1133.7,806 C1164,806 1164,805 1194,805 M1196,804 C1237.6,804 1237.6,788 1279.3,788 M1281,796 C1346.6,796 1346.6,801 1412.3,801 M1412.3,803 C1455,803 1455,789 1497.7,789
M1133.7,812 C1164,812 1164,812 1194,812 M1196,810 C1237.6,810 1237.6,797 1279.3,797 M1281,803 C1346.6,803 1346.6,810 1412.3,810 M1412.3,812 C1455,812 1455,794 1497.7,794
M1133.7,826 C1164,826 1164,826 1194,826 M1196,820 C1237.6,820 1237.6,811 1279.3,811 M1281,810 C1346.6,810 1346.6,826 1412.3,826 M1412.3,819 C1455,819 1455,812 1497.7,812
M1133.7,825 C1164,825 1164,820 1194,820 M1196,824 C1237.6,824 1237.6,818 1279.3,818 M1281,824 C1346.6,824 1346.6,813 1412.3,813 M1412.3,826 C1455,826 1455,816 1497.7,816
M1133.7,831 C1164,831 1164,834 1194,834 M1196,831 C1237.6,831 1237.6,838 1279.3,838 M1281,829 C1346.6,829 1346.6,835 1412.3,835 M1412.3,838 C1455,838 1455,823 1497.7,823
M1133.7,835 C1164,835 1164,840 1194,840 M1196,838 C1237.6,838 1237.6,843 1279.3,843 M1281,838 C1346.6,838 1346.6,828 1412.3,828 M1412.3,840 C1455,840 1455,830 1497.7,830
M1133.7,842 C1164,842 1164,839 1194,839 M1196,835 C1237.6,835 1237.6,846 1279.3,846 M1281,843 C1346.6,843 1346.6,839 1412.3,839 M1412.3,839 C1455,839 1455,845 1497.7,845
M1133.7,800 C1164,800 1164,803 1194,803 M1196,800 C1237.6,800 1237.6,806 1279.3,806 M1281,800 C1346.6,800 1346.6,806 1412.3,806 M1412.3,806 C1455,806 1455,800 1497.7,800
M1133.7,793 C1164,793 1164,800 1194,800 M1196,798 C1237.6,798 1237.6,793 1279.3,793 M1281,806 C1346.6,806 1346.6,802 1412.3,802 M1412.3,802 C1455,802 1455,803 1497.7,803
M1133.7,857 L1194,857 M1196,857 L1279.3,857 M1281,857 L1412.3,857 M1412.3,857 L1497.7,858
M1133.7,860 C1164,860 1164,858 1194,858 M1196,860 L1279.3,860 M1281,858 C1346.6,858 1346.6,870 1412.3,870 M1412.3,866 C1455,866 1455,861 1497.7,861
M1133.7,861 L1194,861 M1196,859 C1237.6,859 1237.6,861 1279.3,861 M1281,861 C1346.6,861 1346.6,855 1412.3,855 M1412.3,862 C1455,862 1455,863 1497.7,863
M1133.7,872 C1164,872 1164,867 1194,867 M1196,866 C1237.6,866 1237.6,872 1279.3,872 M1281,872 C1346.6,872 1346.6,882 1412.3,882 M1412.3,874 C1455,874 1455,872 1497.7,872
M1133.7,876 C1164,876 1164,873 1194,873 M1196,869 C1237.6,869 1237.6,877 1279.3,877 M1281,877 C1346.6,877 1346.6,870 1412.3,870 M1412.3,869 C1455,869 1455,875 1497.7,875
M1133.7,878 C1164,878 1164,880 1194,880 M1196,877 C1237.6,877 1237.6,879 1279.3,879 M1281,879 C1346.6,879 1346.6,875 1412.3,875 M1412.3,885 C1455,885 1455,880 1497.7,880
M1133.7,885 L1194,885 M1196,880 C1237.6,880 1237.6,884 1279.3,884 M1281,882 C1346.6,882 1346.6,870 1412.3,870 M1412.3,874 C1455,874 1455,882 1497.7,882
M1133.7,888 C1164,888 1164,889 1194,889 M1196,889 C1237.6,889 1237.6,886 1279.3,886 M1281,885 C1346.6,885 1346.6,893 1412.3,893 M1412.3,880 C1455,880 1455,886 1497.7,886
M1133.7,890 C1164,890 1164,892 1194,892 M1196,890 C1237.6,890 1237.6,889 1279.3,889 M1281,892 C1346.6,892 1346.6,886 1412.3,886 M1412.3,893 C1455,893 1455,888 1497.7,888
M1133.7,893 C1164,893 1164,895 1194,895 M1196,897 C1237.6,897 1237.6,892 1279.3,892 M1281,895 C1346.6,895 1346.6,896 1412.3,896 M1412.3,890 C1455,890 1455,895 1497.7,895
M1133.7,897 C1164,897 1164,898 1194,898 M1196,896 C1237.6,896 1237.6,899 1279.3,899 M1281,897 C1346.6,897 1346.6,895 1412.3,895 M1412.3,899 C1455,899 1455,896 1497.7,896
M1133.7,900 C1164,900 1164,899 1194,899 M1196,899 C1237.6,899 1237.6,903 1279.3,903 M1281,902 C1346.6,902 1346.6,906 1412.3,906 M1412.3,896 C1455,896 1455,900 1497.7,900
M1133.7,902 C1164,902 1164,905 1194,905 M1196,905 C1237.6,905 1237.6,900 1279.3,900 M1281,904 C1346.6,904 1346.6,900 1412.3,900 M1412.3,905 C1455,905 1455,903 1497.7,903
M1133.7,905 C1164,905 1164,902 1194,902 M1196,903 C1237.6,903 1237.6,908 1279.3,908 M1281,906 C1346.6,906 1346.6,910 1412.3,910 M1412.3,906 C1455,906 1455,905 1497.7,905
M1133.7,906 C1164,906 1164,909 1194,909 M1196,908 C1237.6,908 1237.6,906 1279.3,906 M1281,910 C1346.6,910 1346.6,905 1412.3,905 M1412.3,910 C1455,910 1455,912 1497.7,912
M1133.7,910 C1164,910 1164,911 1194,911 M1196,910 C1237.6,910 1237.6,914 1279.3,914 M1281,912 C1346.6,912 1346.6,918 1412.3,918 M1412.3,914 C1455,914 1455,908 1497.7,908
M1133.7,912 C1164,912 1164,915 1194,915 M1196,913 C1237.6,913 1237.6,910 1279.3,910 M1281,915 C1346.6,915 1346.6,918 1412.3,918 M1412.3,913 C1455,913 1455,916 1497.7,916
M1133.7,915 C1164,915 1164,918 1194,918 M1196,918 C1237.6,918 1237.6,915 1279.3,915 M1281,918 C1346.6,918 1346.6,913 1412.3,913 M1412.3,917 C1455,917 1455,920 1497.7,920
M1133.7,918 C1164,918 1164,914 1194,914 M1196,916 C1237.6,916 1237.6,920 1279.3,920 M1281,920 C1346.6,920 1346.6,920 1412.3,920 M1412.3,919 C1455,919 1455,917 1497.7,917
M1133.7,921 C1164,921 1164,924 1194,924 M1196,920 C1237.6,920 1237.6,925 1279.3,925 M1281,925 C1346.6,925 1346.6,922 1412.3,922 M1412.3,924 C1455,924 1455,921 1497.7,921
M1133.7,924 C1164,924 1164,921 1194,921 M1196,925 C1237.6,925 1237.6,927 1279.3,927 M1281,922 C1346.6,922 1346.6,928 1412.3,928 M1412.3,928 C1455,928 1455,925 1497.7,925
M1133.7,928 C1164,928 1164,930 1194,930 M1196,930 C1237.6,930 1237.6,927 1279.3,927 M1281,926 C1346.6,926 1346.6,932 1412.3,932 M1412.3,930 C1455,930 1455,928 1497.7,928
M1133.7,930 C1164,930 1164,932 1194,932 M1196,931 C1237.6,931 1237.6,934 1279.3,934 M1281,934 C1346.6,934 1346.6,935 1412.3,935 M1412.3,930 C1455,930 1455,934 1497.7,934
M1133.7,933 C1164,933 1164,934 1194,934 M1196,935 C1237.6,935 1237.6,937 1279.3,937 M1281,939 C1346.6,939 1346.6,936 1412.3,936 M1412.3,935 C1455,935 1455,938 1497.7,938
M1133.7,935 C1164,935 1164,938 1194,938 M1196,936 C1237.6,936 1237.6,938 1279.3,938 M1281,938 C1346.6,938 1346.6,940 1412.3,940 M1412.3,937 C1455,937 1455,937 1497.7,937
M1133.7,940 C1164,940 1164,945 1194,945 M1196,945 C1237.6,945 1237.6,950 1279.3,950 M1281,952 C1346.6,952 1346.6,948 1412.3,948 M1412.3,942 C1455,942 1455,945 1497.7,945
M1133.7,945 C1164,945 1164,949 1194,949 M1196,948 C1237.6,948 1237.6,956 1279.3,956 M1281,956 C1346.6,956 1346.6,946 1412.3,946 M1412.3,945 C1455,945 1455,950 1497.7,950
M1133.7,948 C1164,948 1164,952 1194,952 M1196,954 C1237.6,954 1237.6,957 1279.3,957 M1281,960 C1346.6,960 1346.6,950 1412.3,950 M1412.3,949 C1455,949 1455,954 1497.7,954
M1133.7,950 C1164,950 1164,955 1194,955 M1196,960 C1237.6,960 1237.6,958 1279.3,958 M1281,957 C1346.6,957 1346.6,949 1412.3,949 M1412.3,951 C1455,951 1455,957 1497.7,957
M1133.7,953 C1164,953 1164,960 1194,960 M1196,960 C1237.6,960 1237.6,960 1279.3,960 M1281,960 C1346.6,960 1346.6,958 1412.3,958 M1412.3,954 C1455,954 1455,960 1497.7,960
M1133.7,976 C1164,976 1164,976 1194,976 M1196,973 C1237.6,973 1237.6,966 1279.3,966 M1281,966 C1346.6,966 1346.6,975 1412.3,975 M1412.3,976 C1455,976 1455,975 1497.7,975
M1133.7,976 C1164,976 1164,978 1194,978 M1196,978 C1237.6,978 1237.6,968 1279.3,968 M1281,968 C1346.6,968 1346.6,976 1412.3,976 M1412.3,976 C1455,976 1455,978 1497.7,978"/>
<g transform="translate(0,3.5)"><use href="#eb"/></g>
<path class="be" d="M1133.7,1017.7 Q1164,994.7 1194,994.7 M1196,994 C1237.6,994 1237.6,969 1279.3,969 M1281,969 Q1346.6,969 1412.3,1017.7 Q1440,983 1497.7,983
M1133.7,1017.7 Q1164,990.1 1194,990.1 M1196,990 C1237.6,990 1237.6,967 1279.3,967 M1281,967 Q1346.6,967 1412.3,1017.7 Q1440,981 1497.7,981
M1133.7,1017.7 Q1164,978.6 1194,978.6 M1196,985 C1237.6,985 1237.6,968 1279.3,968 M1281,968 Q1346.6,968 1412.3,1017.7 Q1440,976 1497.7,976
M1412.3,1017.7 Q1440,965 1497.7,965"/>
</g>
<path class="tk" d="M1133.7,1032v-7M1194,1032v-7M1279.3,1032v-7M1306,1032v-7M1412.3,1032v-7M1497.7,1032v-7M1133.7,730v7M1194,730v7M1279.3,730v7M1306,730v7M1412.3,730v7M1497.7,730v7
M1116,1017.7h8M1116,960.2h8M1116,902.7h8M1116,845.2h8M1116,787.7h8M1516,1017.7h-8M1516,960.2h-8M1516,902.7h-8M1516,845.2h-8M1516,787.7h-8"/>
<rect class="ax" x="1116" y="730" width="400" height="302"/>
<!-- DOS e -->
<polyline fill="none" stroke="#000" stroke-width="2.2" points="1571,1017.7 1571,1013.1 1581,1006.2 1591,994.7 1596,983.2 1601,976.3 1611,971.7 1616,964.8 1626,960.2 1641,955.6 1631,953.3 1651,948.7 1636,944.1 1656,939.5 1641,937.2 1649,932.6 1633,930.3 1656,925.7 1636,921.1 1651,916.5 1631,911.9 1649,907.3 1629,902.7 1643,898.1 1626,893.5 1636,888.9 1616,884.3 1611,879.7 1601,875.1 1599,870.5 1596,865.9 1601,861.3 1689,856.7 1591,854.4 1583,849.8 1586,845.2 1585,840.6 1641,833.7 1589,831.4 1593,824.5 1596,817.6 1643,810.7 1589,806.1 1583,799.2 1591,792.3 1586,787.7 1593,778.5 1586,771.6 1601,764.7 1583,760.1 1571,755.5"/>
<polyline fill="none" stroke="#1f77b4" stroke-width="2.2" points="1571,1017.7 1573,1006.2 1576,994.7 1581,983.2 1588,976.3 1590,964.8 1597,955.6 1594,948.7 1600,939.5 1593,932.6 1601,925.7 1592,916.5 1599,907.3 1591,898.1 1596,888.9 1587,879.7 1580,870.5 1576,861.3 1573,845.2 1572,810.7 1571,760"/>
<polyline fill="none" stroke="#9467bd" stroke-width="2.4" points="1571,1017.7 1575,1006.2 1579,994.7 1582,983.2 1586,976.3 1596,964.8 1606,955.6 1599,948.7 1613,939.5 1602,932.6 1614,925.7 1601,916.5 1613,907.3 1598,898.1 1609,888.9 1596,884.3 1592,875.1 1588,865.9 1640,856.7 1580,849.8 1582,840.6 1612,833.7 1583,826 1585,817.6 1625,810.7 1582,803 1578,792.3 1580,780 1575,770 1573,760"/>
<polyline fill="none" stroke="#ff7f0e" stroke-width="2" points="1571,1017.7 1575,1010 1576,980 1574,950 1577,920 1575,890 1578,860 1575,830 1576,800 1574,770 1571,755"/>
<polyline fill="none" stroke="#2ca02c" stroke-width="2" stroke-dasharray="2,3" points="1572,1010 1572,830 1576,800 1580,785 1576,770 1572,755"/>
<polyline fill="none" stroke="#d62728" stroke-width="2" stroke-dasharray="5,3" points="1573,1012 1573,760"/>
<path class="tk" d="M1566,1017.7h7M1566,960.2h7M1566,902.7h7M1566,845.2h7M1566,787.7h7M1700,1017.7h-7M1700,960.2h-7M1700,902.7h-7M1700,845.2h-7M1700,787.7h-7"/>
<rect class="ax" x="1566" y="730" width="134" height="302"/>
<!-- tau e -->
<polygon fill="#f28522" points="1770,983 1766,970 1769,955 1768,940 1772,930 1771,915 1775,905 1774,890 1778,880 1780,868 1783,862 1795,860 1801,868 1800,875 1802,890 1797,905 1800,920 1795,935 1796,948 1790,960 1791,972 1786,985 1778,995 1768,998"/>
<polygon fill="#f28522" points="1773,770 1777,760 1790,763 1797,780 1800,795 1795,815 1797,830 1792,845 1780,847 1771,835 1771,820 1767,808 1769,795"/>
<use href="#oc" x="1714" y="1005"/><use href="#oc" x="1716" y="1013"/><use href="#oc" x="1730" y="998"/><use href="#oc" x="1740" y="1010"/><use href="#oc" x="1735" y="985"/><use href="#oc" x="1750" y="990"/><use href="#oc" x="1758" y="1000"/><use href="#oc" x="1760" y="985"/><use href="#oc" x="1762" y="975"/><use href="#oc" x="1755" y="1005"/><use href="#oc" x="1745" y="1002"/><use href="#oc" x="1800" y="950"/><use href="#oc" x="1808" y="953"/><use href="#oc" x="1812" y="943"/><use href="#oc" x="1820" y="915"/><use href="#oc" x="1840" y="907"/><use href="#oc" x="1843" y="938"/><use href="#oc" x="1842" y="946"/><use href="#oc" x="1846" y="824"/><use href="#oc" x="1828" y="875"/><use href="#oc" x="1827" y="914"/><use href="#oc" x="1760" y="956"/><use href="#oc" x="1764" y="961"/><use href="#oc" x="1802" y="860"/><use href="#oc" x="1800" y="800"/>
<path class="tk" d="M1771.5,1032v-8M1830,1032v-8M1771.5,730v8M1830,730v8"/>
<path class="tk" stroke-width="1.1" d="M1730.6,1032v-4M1740.9,1032v-4M1748.2,1032v-4M1753.9,1032v-4M1758.5,1032v-4M1762.3,1032v-4M1765.8,1032v-4M1768.8,1032v-4M1789.1,1032v-4M1799.4,1032v-4M1806.7,1032v-4M1812.4,1032v-4M1817,1032v-4M1820.8,1032v-4M1824.3,1032v-4M1827.3,1032v-4
M1730.6,730v4M1740.9,730v4M1748.2,730v4M1753.9,730v4M1758.5,730v4M1762.3,730v4M1765.8,730v4M1768.8,730v4M1789.1,730v4M1799.4,730v4M1806.7,730v4M1812.4,730v4M1817,730v4M1820.8,730v4M1824.3,730v4M1827.3,730v4"/>
<path class="tk" d="M1713,1017.7h7M1713,960.2h7M1713,902.7h7M1713,845.2h7M1713,787.7h7M1847,1017.7h-7M1847,960.2h-7M1847,902.7h-7M1847,845.2h-7M1847,787.7h-7"/>
<rect class="ax" x="1713" y="730" width="134" height="302"/>
<!-- kappa e -->
<polygon fill="#7cc97c" fill-opacity="0.85" points="1866.7,1017.7 1866.7,1013.1 1903.2,1010.8 1872.8,1008.5 1939.7,1006.2 1878.9,1003.9 1970.1,1001.6 1891,999.3 1951.8,997 1897.1,994.7 1988.3,992.4 1903.2,990.1 1957.9,987.8 1909.3,985.5 1927.5,983.2 1912.9,980.9 1909.3,976.3 1900.7,971.7 1893.5,960.2 1887.4,948.7 1885,937.2 1883.7,925.7 1878.9,914.2 1878.9,902.7 1875.2,891.2 1874,879.7 1872.8,868.2 1872.8,856.7 1871.6,845.2 1874,833.7 1883.7,831.4 1872.8,829.1 1871.6,810.7 1872.8,799.2 1881.3,794.6 1871.6,790 1872.8,776.2 1870.3,764.7 1866.7,757.8"/>
<polyline fill="none" stroke="#228b22" stroke-width="1.6" points="1866.7,1013.1 1903.2,1010.8 1872.8,1008.5 1939.7,1006.2 1878.9,1003.9 1970.1,1001.6 1891,999.3 1951.8,997 1897.1,994.7 1988.3,992.4 1903.2,990.1 1957.9,987.8 1909.3,985.5 1927.5,983.2 1912.9,980.9 1909.3,976.3 1900.7,971.7 1893.5,960.2 1887.4,948.7 1885,937.2 1883.7,925.7 1878.9,914.2 1878.9,902.7 1875.2,891.2 1874,879.7 1872.8,868.2 1872.8,856.7 1871.6,845.2 1874,833.7 1883.7,831.4 1872.8,829.1 1871.6,810.7 1872.8,799.2 1881.3,794.6 1871.6,790 1872.8,776.2 1870.3,764.7 1866.7,757.8"/>
<polyline fill="none" stroke="#0000ff" stroke-width="2.5" points="1866.7,1017.7 1870.3,1010.8 1874,1006.2 1888.6,999.3 1903.2,992.4 1921.4,983.2 1932.4,971.7 1939.7,960.2 1951.8,937.2 1964,902.7 1971.3,868.2 1976.1,845.2 1979.8,810.7 1983.4,787.7 1987.1,769.3 1988.3,757.8"/>
<path class="tk" d="M1866.7,1032v-7M1897.1,1032v-7M1927.5,1032v-7M1957.9,1032v-7M1988.3,1032v-7M1860,1017.7h7M1860,960.2h7M1860,902.7h7M1860,845.2h7M1860,787.7h7M1994,1017.7h-7M1994,960.2h-7M1994,902.7h-7M1994,845.2h-7M1994,787.7h-7"/>
<rect class="ax" x="1860" y="730" width="134" height="302"/>

<!-- legends (d)/(e) -->
<g class="dv" fill="#000" font-size="20">
<rect x="617" y="843" width="54" height="76" fill="#fff" stroke="#ccc" stroke-width="1.5"/>
<line x1="622" y1="857" x2="634" y2="857" stroke="#1f77b4" stroke-width="3"/><text x="638" y="865">Np</text>
<line x1="622" y1="880" x2="634" y2="880" stroke="#ff7f0e" stroke-width="3"/><text x="638" y="888">P</text>
<line x1="622" y1="903" x2="634" y2="903" stroke="#2ca02c" stroke-width="3" stroke-dasharray="2,3"/><text x="638" y="911">H</text>
<rect x="731" y="849" width="85" height="63" fill="#fff" stroke="#ccc" stroke-width="1.5"/>
<circle cx="749" cy="866" r="2" fill="none" stroke="#777"/><text x="768" y="874" font-size="21">3ph</text>
<text x="745" y="898" font-size="9" fill="#00f">×</text><text x="768" y="900" font-size="21">4ph</text>
<rect x="860" y="741" width="92" height="72" fill="#fff" stroke="#ccc" stroke-width="1.5"/>
<rect x="868" y="751" width="12" height="14" fill="#7cc97c"/>
<text x="888" y="768">κ</text><text x="901" y="757" font-size="15">norm</text><text x="901" y="773" font-size="15">spec</text>
<line x1="865" y1="791" x2="879" y2="791" stroke="#00f" stroke-width="3"/>
<text x="888" y="800">κ</text><text x="901" y="789" font-size="15">norm</text><text x="901" y="805" font-size="15">cumul</text>
<rect x="1639" y="887" width="53" height="121" fill="#fff" stroke="#ccc" stroke-width="1.5"/>
<line x1="1644" y1="901" x2="1655" y2="901" stroke="#1f77b4" stroke-width="3"/><text x="1660" y="909">Cs</text>
<line x1="1644" y1="924" x2="1655" y2="924" stroke="#ff7f0e" stroke-width="3"/><text x="1660" y="932">Rb</text>
<line x1="1644" y1="947" x2="1655" y2="947" stroke="#2ca02c" stroke-width="3" stroke-dasharray="2,3"/><text x="1660" y="955">Sn</text>
<line x1="1644" y1="970" x2="1655" y2="970" stroke="#d62728" stroke-width="3"/><text x="1660" y="978">Pb</text>
<line x1="1644" y1="993" x2="1655" y2="993" stroke="#9467bd" stroke-width="3"/><text x="1660" y="1001">I</text>
<rect x="1882" y="741" width="92" height="72" fill="#fff" stroke="#ccc" stroke-width="1.5"/>
<rect x="1890" y="751" width="12" height="14" fill="#7cc97c"/>
<text x="1910" y="768">κ</text><text x="1923" y="757" font-size="15">norm</text><text x="1923" y="773" font-size="15">spec</text>
<line x1="1887" y1="791" x2="1901" y2="791" stroke="#00f" stroke-width="3"/>
<text x="1910" y="800">κ</text><text x="1923" y="789" font-size="15">norm</text><text x="1923" y="805" font-size="15">cumul</text>
</g>

<!-- Panel (d) text -->
<g class="dv" fill="#000">
<text x="4" y="686" font-size="40" class="ls">(d)</text>
<text x="320" y="687" font-size="20" text-anchor="middle">NpPH (194)</text>
<text x="320" y="713" font-size="20" text-anchor="middle">ID: dm-53aa105ca4</text>
<text x="973" y="686" font-size="20" text-anchor="end">3ph: κ<tspan font-size="14" dy="5">p, zz</tspan><tspan dy="-5"> = 172, κ</tspan><tspan font-size="14" dy="5">p, xx/yy</tspan><tspan dy="-5"> = 277, κ</tspan><tspan font-size="14" dy="5">c</tspan><tspan dy="-5"> = 6.9</tspan></text>
<text x="973" y="713" font-size="20" text-anchor="end">3+4ph: κ<tspan font-size="14" dy="5">p, zz</tspan><tspan dy="-5"> = 53, κ</tspan><tspan font-size="14" dy="5">p, xx/yy</tspan><tspan dy="-5"> = 78, κ</tspan><tspan font-size="14" dy="5">c</tspan><tspan dy="-5"> = 0.0061</tspan></text>
<g font-size="21" text-anchor="end">
<text x="91" y="738">400</text><text x="91" y="810">300</text><text x="91" y="882">200</text><text x="91" y="954">100</text><text x="91" y="1025">0</text>
</g>
<text transform="translate(26,880) rotate(-90)" font-size="22" text-anchor="middle" letter-spacing="2">Frequency (cm<tspan font-size="15" dy="-9">−1</tspan><tspan dy="9">)</tspan></text>
<g font-size="22" text-anchor="middle">
<text x="124" y="1063">Γ</text><text x="178" y="1063">M</text><text x="210" y="1063">K</text><text x="273" y="1063">Γ</text><text x="303" y="1063">A</text><text x="357" y="1063">L</text><text x="389" y="1063">H</text>
</g>
<text x="438" y="1063" font-size="22"><tspan font-size="15" dy="-8">A</tspan><tspan dy="8">/</tspan><tspan font-size="15" dy="6">L</tspan><tspan font-size="15" dy="-14">M</tspan><tspan dy="8">/</tspan><tspan font-size="15" dy="6">H</tspan><tspan dy="-6">K</tspan></text>
<text x="612" y="1063" font-size="21" text-anchor="middle">DOS</text>
<text x="612" y="1090" font-size="21" text-anchor="middle">(a.u.)</text>
<text x="695" y="1063" font-size="21" text-anchor="middle">10<tspan font-size="14" dy="-10">−3</tspan></text>
<text x="784" y="1063" font-size="21" text-anchor="middle">10<tspan font-size="14" dy="-10">−1</tspan></text>
<text x="760" y="1102" font-size="21" text-anchor="middle">τ<tspan font-size="14" dy="-10">−1</tspan><tspan dy="10">(ps</tspan><tspan font-size="14" dy="-10">−1</tspan><tspan dy="10">)</tspan></text>
<text x="846" y="1063" font-size="21" text-anchor="middle">0</text>
<text x="967" y="1063" font-size="21" text-anchor="middle">1</text>
</g>

<!-- Panel (e) text -->
<g class="dv" fill="#000">
<text x="1032" y="686" font-size="40" class="ls">(e)</text>
<text x="1340" y="687" font-size="20" text-anchor="middle">Cs<tspan font-size="14" dy="5">6</tspan><tspan dy="-5">Rb</tspan><tspan font-size="14" dy="5">2</tspan><tspan dy="-5">SnPbI</tspan><tspan font-size="14" dy="5">12</tspan><tspan dy="-5"> (148)</tspan></text>
<text x="1340" y="713" font-size="20" text-anchor="middle">ID: dm-b1687b4c0d</text>
<text x="1994" y="713" font-size="20" text-anchor="end">3ph: κ<tspan font-size="14" dy="5">p, xx/yy</tspan><tspan dy="-5"> = 0.032, κ</tspan><tspan font-size="14" dy="5">p, zz</tspan><tspan dy="-5"> = 0.049, κ</tspan><tspan font-size="14" dy="5">c</tspan><tspan dy="-5"> = 0.11</tspan></text>
<g font-size="21" text-anchor="end">
<text x="1102" y="738">125</text><text x="1102" y="795">100</text><text x="1102" y="853">75</text><text x="1102" y="910">50</text><text x="1102" y="968">25</text><text x="1102" y="1025">0</text>
</g>
<text transform="translate(1036,880) rotate(-90)" font-size="22" text-anchor="middle" letter-spacing="2">Frequency (cm<tspan font-size="15" dy="-9">−1</tspan><tspan dy="9">)</tspan></text>
<g font-size="22" text-anchor="middle">
<text x="1134" y="1063">Γ</text><text x="1195" y="1063">L</text><text x="1412" y="1063">Γ</text><text x="1498" y="1063">F</text>
</g>
<text x="1275" y="1063" font-size="22">T<tspan font-size="15" dy="-8">P</tspan><tspan font-size="10" dy="2">0</tspan><tspan dy="6">/</tspan><tspan font-size="15" dy="6">P</tspan><tspan font-size="10" dy="2">2</tspan></text>
<text x="1632" y="1063" font-size="21" text-anchor="middle">DOS</text>
<text x="1632" y="1090" font-size="21" text-anchor="middle">(a.u.)</text>
<text x="1714" y="1063" font-size="21" text-anchor="middle">10<tspan font-size="14" dy="-10">−1</tspan></text>
<text x="1830" y="1063" font-size="21" text-anchor="middle">10</text>
<text x="1780" y="1102" font-size="21" text-anchor="middle">τ<tspan font-size="14" dy="-10">−1</tspan><tspan dy="10">(ps</tspan><tspan font-size="14" dy="-10">−1</tspan><tspan dy="10">)</tspan></text>
<text x="1867" y="1063" font-size="21" text-anchor="middle">0</text>
<text x="1988" y="1063" font-size="21" text-anchor="middle">1</text>
</g>
</svg>
</body></html>
